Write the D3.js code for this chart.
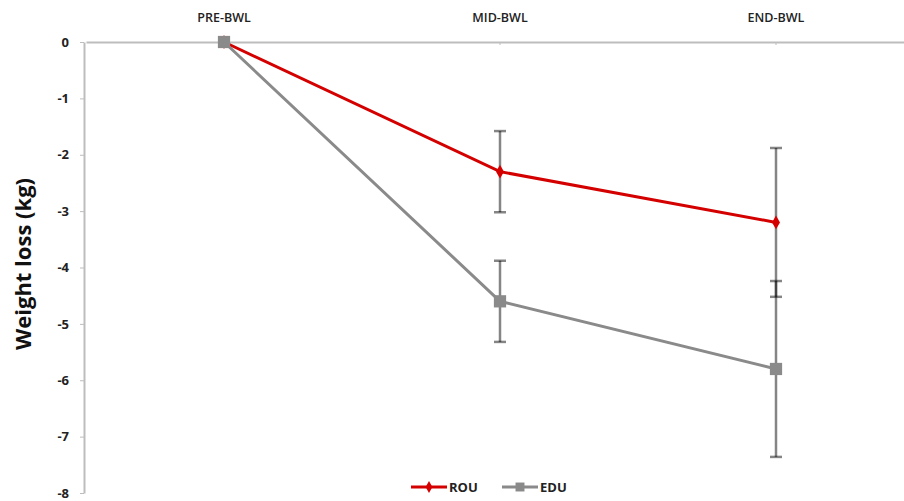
<!DOCTYPE html>
<html>
<head>
<meta charset="utf-8">
<script src="https://cdnjs.cloudflare.com/ajax/libs/d3/7.8.5/d3.min.js"></script>
<style>
  body { margin: 0; background: #fff; }
  svg text { font-family: "Open Sans", "Liberation Sans", sans-serif; }
</style>
</head>
<body>
<svg id="chart" width="904" height="501"></svg>
<script>
// time points and series (weight change in kg, with error bar half-widths)
const phases = ["PRE-BWL", "MID-BWL", "END-BWL"];
const rouValues = [0, -2.3, -3.2];
const rouErrors = [0, 0.72, 1.32];
const eduValues = [0, -4.6, -5.8];
const eduErrors = [0, 0.72, 1.56];
const yTicks = [0, -1, -2, -3, -4, -5, -6, -7, -8];

const svg = d3.select("#chart");

const x = d3.scaleBand().domain(phases).range([86, 914]);
const y = d3.scaleLinear().domain([0, -8]).range([42, 493]);
const cx = function (d) { return x(d) + x.bandwidth() / 2; };

const axisColor = "#bdbdbd";

// top category axis
let gx = svg.append("g").attr("transform", "translate(0,42)")
    .call(d3.axisBottom(x).tickSize(3).tickSizeOuter(0));
gx.select(".domain").attr("stroke", axisColor).attr("stroke-width", 2);
gx.selectAll(".tick line").attr("stroke", axisColor);
gx.selectAll(".tick text")
    .attr("y", -20)
    .attr("dy", 0)
    .attr("font-size", "12.5px")
    .attr("font-weight", "600")
    .attr("fill", "#222");

// left value axis
let gy = svg.append("g").attr("transform", "translate(84,0)")
    .call(d3.axisLeft(y).tickValues(yTicks).tickSize(4).tickSizeOuter(0)
        .tickFormat(function (d) { return d; }));
gy.select(".domain").attr("stroke", axisColor).attr("stroke-width", 2);
gy.selectAll(".tick line").attr("stroke", axisColor);
gy.selectAll(".tick text")
    .attr("x", -15)
    .attr("font-size", "13px")
    .attr("font-weight", "bold")
    .attr("fill", "#222");

svg.append("text")
    .attr("transform", "translate(31,264) rotate(-90)")
    .attr("text-anchor", "middle")
    .attr("font-size", "22px")
    .attr("font-weight", "bold")
    .attr("fill", "#111")
    .text("Weight loss (kg)");

const series = [
    { name: "ROU", values: rouValues, errors: rouErrors, color: "#d40000", marker: "diamond" },
    { name: "EDU", values: eduValues, errors: eduErrors, color: "#8a8a8a", marker: "square" }
];

// error bars (semi-transparent so overlaps darken)
series.forEach(function (s) {
    let eb = svg.append("g").attr("stroke", "#000").attr("stroke-opacity", 0.48).attr("stroke-width", 2.5);
    phases.forEach(function (p, i) {
        if (s.errors[i] === 0) return;
        let top = y(s.values[i] + s.errors[i]);
        let bot = y(s.values[i] - s.errors[i]);
        eb.append("line").attr("x1", cx(p)).attr("x2", cx(p)).attr("y1", top).attr("y2", bot);
        eb.append("line").attr("x1", cx(p) - 6).attr("x2", cx(p) + 6).attr("y1", top).attr("y2", top);
        eb.append("line").attr("x1", cx(p) - 6).attr("x2", cx(p) + 6).attr("y1", bot).attr("y2", bot);
    });
});

const line = d3.line()
    .x(function (d) { return cx(d.p); })
    .y(function (d) { return y(d.v); });

// ROU first, EDU on top (the grey square hides the red one at PRE-BWL)
series.forEach(function (s) {
    let pts = phases.map(function (p, i) { return { p: p, v: s.values[i] }; });
    svg.append("path")
        .datum(pts)
        .attr("d", line)
        .attr("fill", "none")
        .attr("stroke", s.color)
        .attr("stroke-width", 3);
    svg.selectAll(".m" + s.name)
        .data(pts).enter()
        .append("path")
        .attr("transform", function (d) { return "translate(" + cx(d.p) + "," + y(d.v) + ")"; })
        .attr("d", d3.symbol().type(s.marker === "square" ? d3.symbolSquare : d3.symbolDiamond)
            .size(s.marker === "square" ? 150 : 55))
        .attr("fill", s.color);
});

// legend
let lg = svg.append("g").attr("transform", "translate(411,487)");
series.forEach(function (s, i) {
    let g = lg.append("g").attr("transform", "translate(" + (i * 91) + ",0)");
    g.append("line").attr("x1", 0).attr("x2", 36).attr("y1", 0).attr("y2", 0)
        .attr("stroke", s.color).attr("stroke-width", 3);
    g.append("path").attr("transform", "translate(18,0)")
        .attr("d", d3.symbol().type(s.marker === "square" ? d3.symbolSquare : d3.symbolDiamond)
            .size(s.marker === "square" ? 80 : 40))
        .attr("fill", s.color);
    g.append("text").attr("x", 38).attr("y", 5)
        .attr("font-size", "13px").attr("font-weight", "bold").attr("fill", "#222")
        .text(s.name);
});
</script>
</body>
</html>
